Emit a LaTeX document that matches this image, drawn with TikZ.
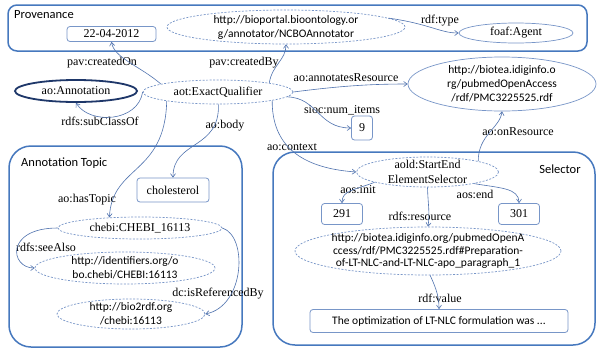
\documentclass[tikz,border=0pt]{standalone}
\usepackage{fontspec}
\setmainfont{Liberation Serif}
\newfontfamily\urlfont{Carlito}
\usetikzlibrary{shapes.geometric,arrows.meta}
\definecolor{boxblue}{RGB}{70,120,190}
\definecolor{nodeblue}{RGB}{120,150,200}
\definecolor{edgeblue}{RGB}{80,115,175}
\definecolor{navyblue}{RGB}{30,55,105}
\begin{document}
\begin{tikzpicture}[x=1pt,y=-1pt,
  font=\fontsize{12}{14}\selectfont,
  container/.style={draw=boxblue,line width=1.5pt},
  ell/.style={ellipse,draw=nodeblue,line width=0.7pt,inner sep=0pt},
  dotline/.style={dash pattern=on 2pt off 1.5pt},
  rbox/.style={rectangle,rounded corners=3pt,draw=nodeblue,line width=0.8pt,inner sep=0pt},
  urltext/.style={inner sep=0pt,align=center,font={\urlfont\fontsize{11.5}{14}\selectfont}},
  lbl/.style={inner sep=0pt},
  boxtitle/.style={inner sep=0pt,font={\urlfont\fontsize{12.5}{14}\selectfont}},
  link/.style={draw=edgeblue,line width=0.6pt,-{Straight Barb[length=3.5pt,width=5pt]}}
]
\useasboundingbox (0,0) rectangle (600,354);
\fill[white] (0,0) rectangle (600,354);

% containers
\draw[container,rounded corners=9pt] (8,5) rectangle (587,51);
\draw[container,rounded corners=22pt] (9,146) rectangle (242,347);
\draw[container,rounded corners=22pt] (273,152) rectangle (595,345);
\node[boxtitle,anchor=west] (tprov) at (14,15) {Provenance};
\node[boxtitle,anchor=west] (ttopic) at (21,163) {Annotation Topic};
\node[boxtitle] (tsel) at (560,169) {Selector};

% nodes
\node[rbox,minimum width=89,minimum height=15] (date) at (111.5,34) {22-04-2012};
\node[ell,dotline,minimum width=238,minimum height=34] (bp) at (286,27) {};
\node[urltext] (bp-t) at (bp) {http://bioportal.bioontology.or\\g/annotator/NCBOAnnotator};
\node[ell,minimum width=114,minimum height=20] (foaf) at (516,33) {foaf:Agent};
\node[ell,draw=navyblue,line width=1.8pt,minimum width=122,minimum height=22] (ann) at (76,91) {ao:Annotation};
\node[ell,dotline,minimum width=150,minimum height=24] (eq) at (218,92) {aot:ExactQualifier};
\node[ell,minimum width=188,minimum height=54] (bt) at (502,84) {};
\node[urltext] (bt-t) at (bt) {http://biotea.idiginfo.o\\rg/pubmedOpenAccess\\/rdf/PMC3225525.rdf};
\node[rbox,minimum width=21,minimum height=24] (nine) at (362,128) {9};
\node[rbox,minimum width=72,minimum height=24] (chol) at (173,190) {cholesterol};
\node[ell,dotline,minimum width=164,minimum height=22] (chebi) at (140,228) {chebi:CHEBI\_16113};
\node[ell,dotline,minimum width=180,minimum height=32] (ident) at (125,268) {};
\node[urltext] (ident-t) at (ident) {http://identifiers.org/o\\bo.chebi/CHEBI:16113};
\node[ell,dotline,minimum width=148,minimum height=30] (b2r) at (131,314) {};
\node[urltext] (b2r-t) at (b2r) {http://bio2rdf.org\\/chebi:16113};
\node[ell,dotline,minimum width=142,minimum height=30] (sel) at (427.5,172) {};
\node[inner sep=0pt,align=center,font=\fontsize{12}{15}\selectfont] (sel-t) at (sel) {aold:StartEnd\\ElementSelector};
\node[rbox,minimum width=41,minimum height=21] (b291) at (342,214) {291};
\node[rbox,minimum width=41,minimum height=21] (b301) at (519,214) {301};
\node[ell,dotline,minimum width=266,minimum height=48] (res) at (428,251) {};
\node[urltext,font={\urlfont\fontsize{11.5}{12.5}\selectfont}] (res-t) at (res) {http://biotea.idiginfo.org/pubmedOpenA\\ccess/rdf/PMC3225525.rdf\#Preparation-\\of-LT-NLC-and-LT-NLC-apo\_paragraph\_1};
\node[rbox,minimum width=258,minimum height=23,font={\urlfont\fontsize{11.5}{13}\selectfont}] (val) at (439,321) {The optimization of LT-NLC formulation was ...};

% edge labels
\node[lbl] (l1) at (102,63) {pav:createdOn};
\node[lbl] (l2) at (244,63) {pav:createdBy};
\node[lbl] (l3) at (440,21) {rdf:type};
\node[lbl] (l4) at (346,78) {ao:annotatesResource};
\node[lbl] (l5) at (100,121) {rdfs:subClassOf};
\node[lbl] (l6) at (342,110) {sioc:num\_items};
\node[lbl] (l7) at (225,126) {ao:body};
\node[lbl] (l8) at (292,147) {ao:context};
\node[lbl] (l9) at (87,200) {ao:hasTopic};
\node[lbl] (l10) at (46,247) {rdfs:seeAlso};
\node[lbl] (l11) at (218,294) {dc:isReferencedBy};
\node[lbl] (l12) at (518,132) {ao:onResource};
\node[lbl] (l13) at (358,190) {aos:init};
\node[lbl] (l14) at (475,194) {aos:end};
\node[lbl] (l15) at (420,216) {rdfs:resource};
\node[lbl] (l16) at (440,298) {rdf:value};

% edges
\draw[link] (eq.172) .. controls (140,66) and (114,58) .. (date.south);
\draw[link] (eq.10) .. controls (272,65) and (286,60) .. (bp.south);
\draw[link] (bp.5) .. controls (430,24) and (440,33) .. (foaf.west);
\draw[link] (eq.east) .. controls (340,86) and (370,84) .. (bt.west);
\draw[link] (eq.west) .. controls (138,122) and (90,125) .. (ann.south);
\draw[link] (eq.-4) .. controls (318,98) and (318,128) .. (nine.west);
\draw[link] (eq.-88) .. controls (220,150) and (173,140) .. (chol.north);
\draw[link] (eq.190) .. controls (165,175) and (112,165) .. (chebi.161);
\draw[link] (eq.-9) .. controls (272,145) and (300,168) .. (sel.west);
\draw[link] (chebi.west) .. controls (5,228) and (10,268) .. (ident.west);
\draw[link] (chebi.east) .. controls (248,236) and (245,306) .. (b2r.east);
\draw[link] (sel.12) .. controls (478,135) and (500,128) .. (bt.south);
\draw[link] (sel.191) .. controls (355,190) and (342,190) .. (b291.north);
\draw[link] (sel.-14) .. controls (500,188) and (519,188) .. (b301.north);
\draw[link] (sel.south) .. controls (428,205) and (430,212) .. (res.north);
\draw[link] (res.-85) .. controls (437,290) and (439,298) .. (val.north);
\end{tikzpicture}
\end{document}
